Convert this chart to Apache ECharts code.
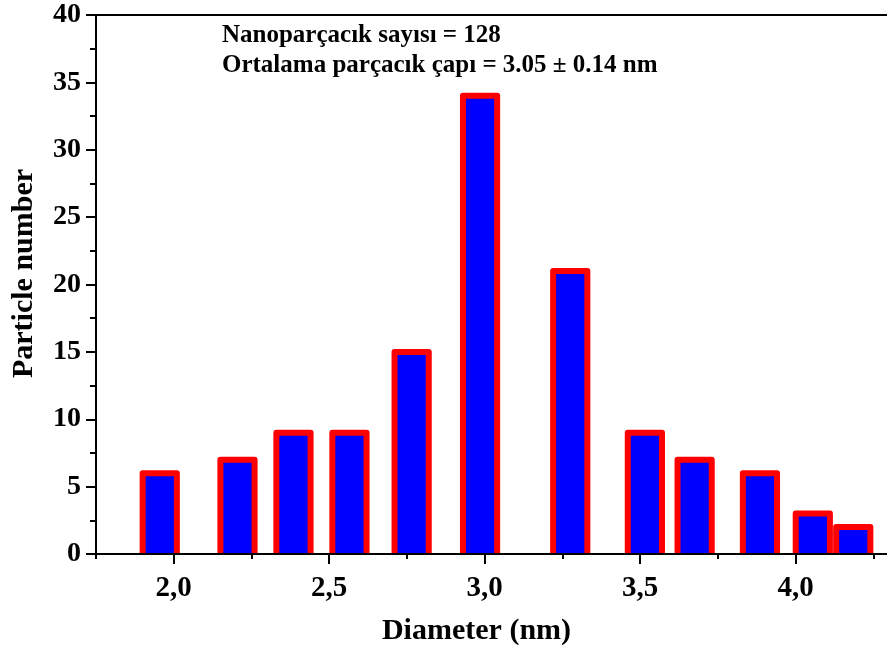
<!DOCTYPE html>
<html>
<head>
<meta charset="utf-8">
<script src="https://cdn.jsdelivr.net/npm/echarts@6/dist/echarts.min.js"></script>
<style>
  html, body { margin: 0; padding: 0; background: #fff; }
  #chart { width: 887px; height: 648px; }
</style>
</head>
<body>
<div id="chart"></div>
<script>
'use strict';

// bin centres (nm) and counts
var diameters = [1.955, 2.205, 2.385, 2.565, 2.765, 2.985, 3.275, 3.515, 3.675, 3.885, 4.055, 4.185];
var counts = [6, 7, 9, 9, 15, 34, 21, 9, 7, 6, 3, 2];
var binWidth = 0.11;
var xMajorTicks = [2.0, 2.5, 3.0, 3.5, 4.0];
var noteLines = ['Nanoparçacık sayısı = 128', 'Ortalama parçacık çapı = 3.05 ± 0.14 nm'];

var FONT = '"Liberation Serif", "Times New Roman", serif';

function renderHistogram(divId) {
    var chart = echarts.init(document.getElementById(divId));

    var points = [];
    for (var i = 0; i < diameters.length; i++) {
        points.push([diameters[i], counts[i]]);
    }

    // blue box with a red outline on left, top and right (no bottom edge)
    function renderBar(params, api) {
        var x = api.value(0);
        var top = api.coord([x, api.value(1)]);
        var base = api.coord([x, 0]);
        var w = api.size([binWidth, 0])[0];
        var l = top[0] - w / 2;
        var r = top[0] + w / 2;
        return {
            type: 'group',
            children: [
                {
                    type: 'rect',
                    shape: { x: l, y: top[1], width: w, height: base[1] - top[1] },
                    style: { fill: '#0000ff' }
                },
                {
                    type: 'polyline',
                    shape: { points: [[l, base[1]], [l, top[1]], [r, top[1]], [r, base[1]]] },
                    style: { fill: null, stroke: '#ff0000', lineWidth: 6, lineJoin: 'round' }
                }
            ]
        };
    }

    var axisLine = { show: true, onZero: false, lineStyle: { color: '#000', width: 2 } };

    var options = {
        animation: false,
        backgroundColor: '#fff',
        grid: {
            left: 96,
            top: 15,
            right: -2,
            bottom: 94,
            containLabel: false,
            outerBoundsMode: 'none'
        },
        xAxis: [
            {
                type: 'value',
                min: 1.75,
                max: 4.3,
                interval: 0.25,
                position: 'bottom',
                z: 5,
                axisLine: axisLine,
                axisTick: { show: true, length: 5, lineStyle: { color: '#000', width: 2 } },
                axisLabel: { show: false },
                splitLine: { show: false }
            },
            {
                type: 'value',
                min: 1.75,
                max: 4.3,
                interval: 0.25,
                position: 'bottom',
                z: 5,
                name: 'Diameter (nm)',
                nameLocation: 'middle',
                nameGap: 62,
                nameTextStyle: {
                    fontFamily: FONT, fontWeight: 'bold', fontSize: 30, color: '#000',
                    padding: [0, 32, 0, 0]
                },
                axisLine: axisLine,
                axisTick: {
                    show: true,
                    length: 10,
                    customValues: xMajorTicks,
                    lineStyle: { color: '#000', width: 2 }
                },
                axisLabel: {
                    show: true,
                    customValues: xMajorTicks,
                    margin: 20,
                    fontFamily: FONT,
                    fontWeight: 'bold',
                    fontSize: 29,
                    color: '#000',
                    formatter: function (v) { return v.toFixed(1).replace('.', ','); }
                },
                splitLine: { show: false }
            },
            {
                type: 'value',
                min: 1.75,
                max: 4.3,
                position: 'top',
                z: 5,
                axisLine: axisLine,
                axisTick: { show: false },
                axisLabel: { show: false },
                splitLine: { show: false }
            }
        ],
        yAxis: {
            type: 'value',
            min: 0,
            max: 40,
            interval: 5,
            z: 5,
            name: 'Particle number',
            nameLocation: 'middle',
            nameGap: 57,
            nameTextStyle: {
                fontFamily: FONT, fontWeight: 'bold', fontSize: 30, color: '#000',
                padding: [0, 0, 0, 22]
            },
            axisLine: axisLine,
            axisTick: { show: true, length: 10, lineStyle: { color: '#000', width: 2 } },
            minorTick: { show: true, splitNumber: 2, length: 6, lineStyle: { color: '#000', width: 2 } },
            axisLabel: {
                margin: 15,
                fontFamily: FONT,
                fontWeight: 'bold',
                fontSize: 28,
                color: '#000'
            },
            splitLine: { show: false }
        },
        graphic: [
            {
                type: 'text',
                left: 222,
                top: 21,
                style: {
                    text: noteLines.join('\n'),
                    font: 'bold 25px ' + FONT,
                    lineHeight: 30,
                    fill: '#000'
                }
            }
        ],
        series: [
            {
                type: 'custom',
                xAxisIndex: 0,
                renderItem: renderBar,
                data: points,
                clip: false
            }
        ]
    };

    chart.setOption(options);
    window.onresize = function () {
        chart.resize();
    };
}

renderHistogram('chart');
</script>
</body>
</html>
